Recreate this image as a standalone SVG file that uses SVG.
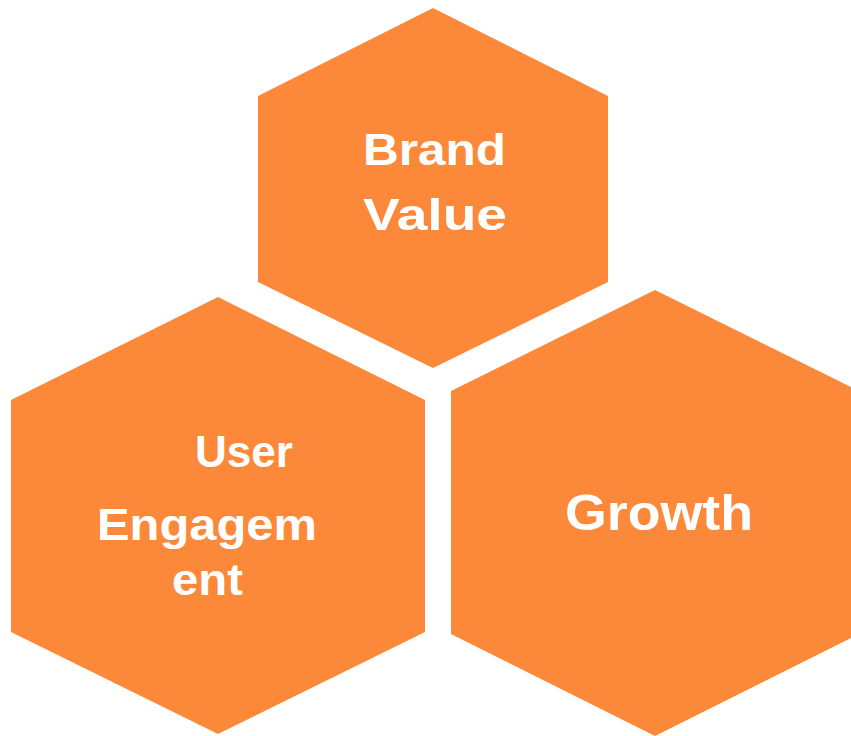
<svg xmlns="http://www.w3.org/2000/svg" width="851" height="736" viewBox="0 0 851 736">
<style>
.hex{fill:#FC883A;}
.t{fill:#ffffff;font-family:"Liberation Sans",Arial,sans-serif;font-weight:bold;font-size:44px;}
</style>
<rect width="851" height="736" fill="#ffffff"/>
<g id="brand-value">
<polygon class="hex" points="433,8 608,96 608,282 433,368 258,282 258,96"/>
<text class="t" x="363" y="165" textLength="143" lengthAdjust="spacingAndGlyphs">Brand</text>
<text class="t" x="363" y="230" textLength="144" lengthAdjust="spacingAndGlyphs">Value</text>
</g>
<g id="user-engagement">
<polygon class="hex" points="218,297 425,400 425,632 218,734 11,632 11,400"/>
<text class="t" x="195" y="467" textLength="98" lengthAdjust="spacingAndGlyphs">User</text>
<text class="t" x="97" y="540" textLength="220" lengthAdjust="spacingAndGlyphs">Engagem</text>
<text class="t" x="172" y="595" textLength="71" lengthAdjust="spacingAndGlyphs">ent</text>
</g>
<g id="growth">
<polygon class="hex" points="655,290 859,391 859,634 655,736 451,634 451,391"/>
<text class="t" x="565" y="530" style="font-size:50px" textLength="188" lengthAdjust="spacingAndGlyphs">Growth</text>
</g>
<g id="connectors"/>
</svg>
